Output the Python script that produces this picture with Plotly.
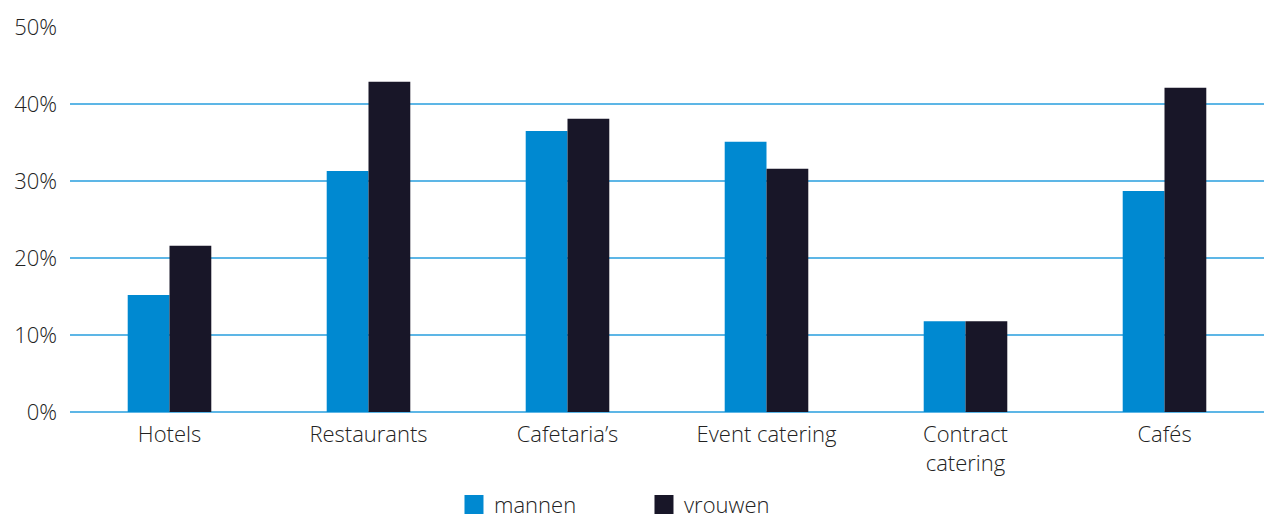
import plotly.graph_objects as go

categories = ["Hotels", "Restaurants", "Cafetaria’s", "Event catering", "Contract<br>catering", "Cafés"]
mannen = [15.2, 31.3, 36.5, 35.1, 11.8, 28.7]
vrouwen = [21.6, 42.9, 38.1, 31.6, 11.8, 42.1]
y_ticks = [0, 10, 20, 30, 40, 50]
y_labels = ["0%", "10%", "20%", "30%", "40%", "50%"]
series_names = ["mannen", "vrouwen"]
series_colors = ["#0089D1", "#181628"]

FONT = "Open Sans"
TXT = "#222222"
FW = 300
FS = 22
fig = go.Figure()
for name, vals, col in zip(series_names, [mannen, vrouwen], series_colors):
    fig.add_trace(go.Bar(name=name, x=categories, y=vals, marker_color=col,
                         marker_line_width=0, showlegend=False))
# legend-only entries with larger square swatches
for name, col in zip(series_names, series_colors):
    fig.add_trace(go.Scatter(name=name, x=[None], y=[None], mode="markers",
                             marker=dict(symbol="square", size=16, color=col,
                                         line=dict(color=col, width=3))))

fig.update_layout(
    width=1264, height=520,
    margin=dict(l=70, r=0, t=27, b=108),
    paper_bgcolor="white", plot_bgcolor="white",
    barmode="group", bargap=0.58, bargroupgap=0,
    font=dict(family=FONT, size=FS, color=TXT, weight=FW),
    legend=dict(orientation="h", x=0.3216, xanchor="left", yref="container",
                y=0.07, yanchor="top", font=dict(size=FS, color=TXT, weight=FW),
                entrywidth=145, itemsizing="trace"),
    xaxis=dict(showgrid=False, showline=False, ticks="", ticklabelstandoff=7,
               tickfont=dict(size=FS, weight=FW)),
    yaxis=dict(range=[0, 50], tickvals=y_ticks, ticktext=y_labels, showgrid=True,
               gridcolor="#5DB6E6", gridwidth=1.6, zeroline=True, zerolinecolor="#5DB6E6",
               zerolinewidth=1.6, ticks="", showline=False, ticklabelstandoff=12,
               tickfont=dict(size=FS, weight=FW)),
)
fig.write_html("out.html")
